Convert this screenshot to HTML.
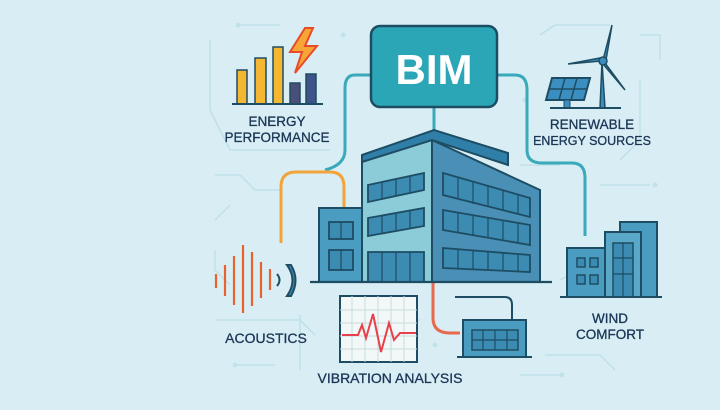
<!DOCTYPE html>
<html><head><meta charset="utf-8"><style>
html,body{margin:0;padding:0;background:#d8eef4;}
svg{display:block}
text{font-family:"Liberation Sans",sans-serif;fill:#1b3656;text-anchor:middle;stroke:#1b3656;stroke-width:0.3;}
</style></head><body>
<svg width="720" height="410" viewBox="0 0 720 410" xmlns="http://www.w3.org/2000/svg">
<rect width="720" height="410" fill="#d8eef4"/>
<g stroke="#bfe0e8" stroke-width="1.5" fill="none">
<path d="M240 25 H280"/><path d="M210 40 V110 L230 150 H330"/><path d="M215 175 H240 L255 190 H280"/>
<path d="M215 220 L230 205"/><path d="M215 250 V270 L230 285"/><path d="M215 320 H300 L315 335"/>
<path d="M235 365 H275"/><path d="M540 35 L555 25 H610"/><path d="M640 35 H660 V60"/>
<path d="M640 80 V140 L620 160"/><path d="M600 185 H650"/><path d="M520 165 H560"/>
<path d="M560 280 L580 270"/><path d="M545 355 H600 L615 370"/><path d="M520 375 H560"/>
<path d="M300 315 V370"/><path d="M380 320 H420"/>
</g>
<g fill="#c2e2ea"><circle cx="238" cy="25" r="2.5"/><circle cx="343" cy="35" r="2.5"/><circle cx="655" cy="185" r="2.5"/><circle cx="235" cy="365" r="2.5"/><circle cx="562" cy="375" r="2.5"/><circle cx="435" cy="345" r="2.5"/><circle cx="525" cy="100" r="2.5"/></g>

<g fill="none" stroke-width="3">
<path d="M371 75 H355 Q345 75 345 88 V150 Q345 165 325 170" stroke="#3aaabb"/>
<path d="M281 243 V187 Q281 172 296 172 H330 Q344 172 344 187 V208" stroke="#f2a43a"/>
<path d="M497 75 H515 Q527 75 527 90 V150 Q527 163 542 163 H572 Q585 163 585 178 V236" stroke="#3aaabb"/>
<path d="M434 107 V132" stroke="#3aaabb"/>
<path d="M433 282 V318 Q433 333 450 333 H460" stroke="#e8694e"/>
<path d="M455 297 H505 Q512 297 512 305 V320" stroke="#1e4d63" stroke-width="2"/>
</g>

<rect x="371" y="26" width="126" height="81" rx="9" fill="#2aa6b6" stroke="#1e4d63" stroke-width="2.5"/>
<text x="434" y="84" font-size="42" font-weight="bold" style="fill:#fff;stroke:none">BIM</text>

<g stroke="#1e4d63" stroke-width="1.5">
<rect x="237" y="70" width="10" height="34" fill="#f5b731"/>
<rect x="255" y="58" width="11" height="46" fill="#f5b731"/>
<rect x="273" y="47" width="10" height="57" fill="#f5b731"/>
<rect x="290" y="83" width="10" height="21" fill="#4a4f7a"/>
<rect x="306" y="74" width="10" height="30" fill="#3f5289"/>
</g>
<path d="M232 104 H323" stroke="#1e4d63" stroke-width="2"/>
<path d="M305 28 L290 52 H302 L295 73 L317 46 H305 L313 28 Z" fill="#f7a534" stroke="#e94b2a" stroke-width="2"/>
<text x="277" y="126" font-size="13.5">ENERGY</text>
<text x="277" y="142" font-size="13.5">PERFORMANCE</text>

<path d="M552 78 H590 L584 100 H546 Z" fill="#3b8fc0" stroke="#1e4d63" stroke-width="2"/>
<path d="M565 78 L559 100 M577 78 L571 100 M549 89 H587" stroke="#1e4d63" stroke-width="1.5"/>
<rect x="564" y="100" width="6" height="8" fill="#3b8fc0" stroke="#1e4d63"/>
<path d="M600 108 L602 62 L605 108 Z" fill="#3b8fc0" stroke="#1e4d63" stroke-width="1.5"/>
<g fill="#3b8fc0" stroke="#1e4d63" stroke-width="1.5">
<path d="M603 60 L612 25 L606 60 Z"/><path d="M601 61 L568 64 L600 58 Z"/><path d="M605 63 L625 90 L603 64 Z"/>
</g>
<circle cx="603" cy="61" r="4" fill="#3b8fc0" stroke="#1e4d63" stroke-width="1.5"/>
<path d="M550 108 H621" stroke="#1e4d63" stroke-width="2"/>
<text x="592" y="129" font-size="13.5">RENEWABLE</text>
<text x="592" y="145" font-size="12.5">ENERGY SOURCES</text>

<g stroke="#1e4d63" stroke-width="2">
<rect x="319" y="208" width="43" height="74" fill="#4a9cc0"/>
<path d="M362 160 L432 140 V282 H362 Z" fill="#8ccbd8"/>
<path d="M432 140 L540 190 V282 H432 Z" fill="#4a8fb5"/>
<path d="M362 155 L434 130 L508 153 V165 L432 140 L362 162 Z" fill="#2f7fa8"/>
</g>
<g fill="#3b8bb3" stroke="#1e4d63" stroke-width="1.8">
<rect x="329" y="222" width="24" height="17"/><rect x="329" y="250" width="24" height="20"/>
<path d="M368 185 L424 173 V190 L368 202 Z"/><path d="M368 218 L424 208 V226 L368 236 Z"/><path d="M368 252 H424 V282 H368 Z"/>
<path d="M443 173 L530 198 V217 L443 195 Z"/><path d="M443 210 L530 225 V245 L443 230 Z"/><path d="M443 248 L530 255 V272 L443 268 Z"/>
</g>
<g stroke="#1e4d63" stroke-width="1.2">
<path d="M341 222 V239 M341 250 V270 M382 182 V199 M396 179 V196 M410 176 V193 M382 216 V233 M396 213 V230 M410 211 V228 M382 252 V282 M396 252 V282 M410 252 V282"/>
<path d="M458 177 V199 M473 182 V204 M488 186 V207 M503 190 V211 M518 194 V214 M458 213 V232 M473 215 V235 M488 218 V238 M503 220 V240 M518 222 V242 M458 249 V269 M473 250 V270 M488 251 V270 M503 253 V271 M518 254 V272"/>
</g>
<path d="M310 282 H552" stroke="#1e4d63" stroke-width="2.2"/>

<g stroke="#1e4d63" stroke-width="2" fill="#4a9cc0">
<rect x="567" y="248" width="40" height="49"/><rect x="620" y="222" width="37" height="75"/><rect x="605" y="232" width="36" height="65" fill="#5aa8c8"/>
</g>
<g fill="#3b8bb3" stroke="#1e4d63" stroke-width="1.5">
<rect x="577" y="258" width="8" height="9"/><rect x="590" y="258" width="8" height="9"/><rect x="577" y="275" width="8" height="9"/><rect x="590" y="275" width="8" height="9"/>
<rect x="613" y="243" width="20" height="54"/>
</g>
<path d="M623 243 V297 M613 258 H633 M613 274 H633" stroke="#1e4d63" stroke-width="1.2"/>
<path d="M560 297 H662" stroke="#1e4d63" stroke-width="2"/>
<text x="610" y="323" font-size="13.5">WIND</text>
<text x="610" y="339" font-size="13.5">COMFORT</text>

<g stroke="#e8622e" stroke-width="2.2">
<path d="M216 274 V288 M225 265 V296 M234 256 V305 M243 245 V313 M252 252 V306 M261 262 V298 M270 269 V290"/>
</g>
<path d="M277 274 Q282 280 277 286" stroke="#1e4d63" stroke-width="2" fill="none"/>
<path d="M287 265 Q298 280 287 296 L291 296 Q300 280 291 265 Z" fill="#3b8bb3" stroke="#1e4d63" stroke-width="2"/>
<text x="266" y="343" font-size="14">ACOUSTICS</text>

<rect x="340" y="296" width="77" height="66" fill="#f2f8f8" stroke="#1e4d63" stroke-width="2"/>
<g stroke="#c8dcdc" stroke-width="1">
<path d="M352 296 V362 M365 296 V362 M378 296 V362 M391 296 V362 M404 296 V362 M340 310 H417 M340 323 H417 M340 336 H417 M340 349 H417"/>
</g>
<path d="M342 335 H358 L362 325 L366 338 L373 314 L381 352 L389 323 L394 340 L400 333 H416" fill="none" stroke="#e8404a" stroke-width="2"/>
<text x="390" y="383" font-size="14">VIBRATION ANALYSIS</text>

<rect x="463" y="320" width="63" height="37" fill="#4a9cc0" stroke="#1e4d63" stroke-width="2"/>
<rect x="472" y="330" width="46" height="20" fill="#3b8bb3" stroke="#1e4d63" stroke-width="1.5"/>
<path d="M483 330 V350 M495 330 V350 M507 330 V350 M472 340 H518" stroke="#1e4d63" stroke-width="1.2"/>
<path d="M457 357 H532" stroke="#1e4d63" stroke-width="2"/>
</svg>
</body></html>
